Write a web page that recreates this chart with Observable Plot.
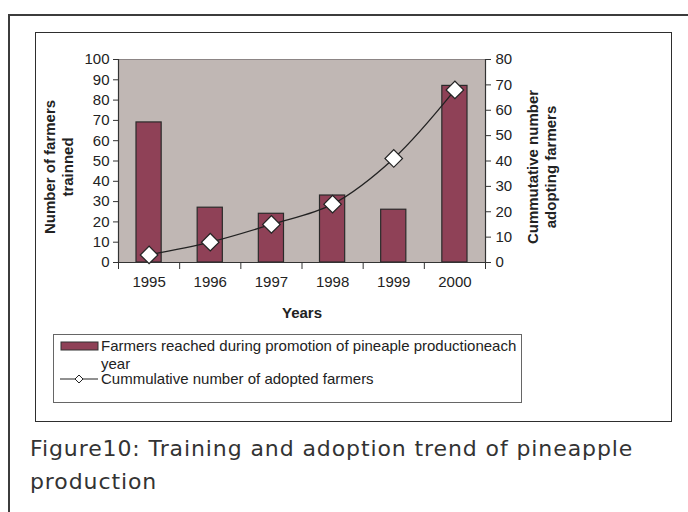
<!DOCTYPE html>
<html>
<head>
<meta charset="utf-8">
<script src="https://cdn.jsdelivr.net/npm/d3@7"></script>
<script src="https://cdn.jsdelivr.net/npm/@observablehq/plot@0.6"></script>
<style>
  html, body { margin: 0; padding: 0; background: #fff; }
  body { width: 688px; height: 512px; position: relative; overflow: hidden; font-family: "Liberation Sans", Arial, sans-serif; }
  #outer { position: absolute; left: 8px; top: 14px; width: 800px; height: 600px; border-top: 2px solid #3c3c3c; border-left: 2px solid #3c3c3c; }
  #inner { position: absolute; left: 35px; top: 32px; width: 635px; height: 388px; border: 1.5px solid #2e2e2e; }
  #chart { position: absolute; left: 0; top: 0; }
  #legend { position: absolute; left: 53px; top: 334px; width: 467px; height: 67px; border: 1px solid #666; background: #fff; }
  .lg { position: absolute; font-size: 15px; color: #222; white-space: nowrap; line-height: 18px; }
  #caption { position: absolute; left: 30px; top: 432px; font-family: "DejaVu Sans", sans-serif; font-size: 22px; letter-spacing: 0.9px; line-height: 33px; color: #333; white-space: nowrap; }
</style>
</head>
<body>
<div id="outer"></div>
<div id="inner"></div>
<div id="chart"></div>
<div id="legend">
  <svg class="lg" style="left:6px; top:6px;" width="40" height="12">
    <rect x="1" y="1" width="37" height="8" fill="#8f4157" stroke="#333" stroke-width="1"></rect>
  </svg>
  <div class="lg" id="lg1" style="left:47px; top:2px;"></div>
  <svg class="lg" style="left:6px; top:37px;" width="40" height="14">
    <line x1="0" y1="7" x2="38" y2="7" stroke="#222" stroke-width="1"></line>
    <path d="M19,3 L23,7 L19,11 L15,7 Z" fill="#fff" stroke="#222" stroke-width="1"></path>
  </svg>
  <div class="lg" id="lg2" style="left:47px; top:35px;"></div>
</div>
<div id="caption"></div>
<script>
// ---- data ----
const years = [1995, 1996, 1997, 1998, 1999, 2000];
const trained = [69, 27, 24, 33, 26, 87];
const adopted = [3, 8, 15, 23, 41, 68];
const leftTicks = [0, 10, 20, 30, 40, 50, 60, 70, 80, 90, 100];
const rightTicks = [0, 10, 20, 30, 40, 50, 60, 70, 80];
const barLabel = "Farmers reached during promotion of pineaple productioneach";
const barLabel2 = "year";
const lineLabel = "Cummulative number of adopted farmers";
const leftTitle = "Number of farmers\ntrainned";
const rightTitle = "Cummutative number\nadopting farmers";
const xTitle = "Years";
const captionLines = ["Figure10: Training and adoption trend of pineapple", "production"];

const leftMax = 100, rightMax = 80;
const k = leftMax / rightMax;
const data = years.map((year, i) => ({year, trained: trained[i], adopted: adopted[i]}));
const edges = years.map(y => y - 0.5).concat([years[years.length - 1] + 0.5]);
const xDomain = [edges[0], edges[edges.length - 1]];

const chart = Plot.plot({
  width: 688,
  height: 330,
  marginLeft: 118,
  marginRight: 203,
  marginTop: 59,
  marginBottom: 68,
  style: {fontFamily: "Liberation Sans, Arial, sans-serif", fontSize: "15px", color: "#222", background: "transparent", overflow: "visible"},
  x: {type: "linear", domain: xDomain, axis: null},
  y: {domain: [0, leftMax], axis: null},
  marks: [
    Plot.frame({fill: "#c0b7b4", stroke: "#8c8585"}),
    Plot.rectY(data, {x1: d => d.year - 0.5, x2: d => d.year + 0.5, y: "trained", insetLeft: 18, insetRight: 18, fill: "#8f4157", stroke: "#2a2a2a", strokeWidth: 1.2}),
    Plot.ruleY([0], {stroke: "#333", strokeWidth: 1.2}),
    Plot.ruleX(xDomain, {stroke: "#333", strokeWidth: 1.2}),
    Plot.axisY(leftTicks, {anchor: "left", tickSize: 5, tickPadding: 4, stroke: "#333", fill: "#222", label: null, fontSize: 15}),
    Plot.axisY(rightTicks.map(v => v * k), {anchor: "right", tickSize: 5, tickPadding: 5, stroke: "#333", fill: "#222", label: null, tickFormat: v => String(Math.round(v / k)), fontSize: 15}),
    Plot.axisX(edges, {anchor: "bottom", tickSize: 7, tickFormat: () => "", stroke: "#333", label: null}),
    Plot.axisX(years, {anchor: "bottom", tickSize: 0, tickPadding: 14, tickFormat: d => String(d), fill: "#222", label: null, fontSize: 15}),
    Plot.line(data, {x: "year", y: d => d.adopted * k, curve: "catmull-rom", stroke: "#222", strokeWidth: 1.3}),
    Plot.dot(data, {x: "year", y: d => d.adopted * k, symbol: "square", rotate: 45, r: 7, fill: "#fff", stroke: "#222", strokeWidth: 1.2}),
    Plot.text([leftTitle], {text: d => d, frameAnchor: "left", textAnchor: "middle", lineAnchor: "middle", rotate: -90, dx: -60, dy: 6, fontWeight: "bold", fontSize: 15, lineHeight: 1.15, fill: "#222"}),
    Plot.text([rightTitle], {text: d => d, frameAnchor: "right", textAnchor: "middle", lineAnchor: "middle", rotate: -90, dx: 56, dy: 6, fontWeight: "bold", fontSize: 15, lineHeight: 1.15, fill: "#222"}),
    Plot.text([xTitle], {text: d => d, frameAnchor: "bottom", lineAnchor: "middle", dy: 51, fontWeight: "bold", fontSize: 15, fill: "#222"})
  ]
});
document.getElementById("chart").appendChild(chart);

document.getElementById("lg1").innerHTML = barLabel + "<br>" + barLabel2;
document.getElementById("lg2").textContent = lineLabel;
document.getElementById("caption").innerHTML = captionLines.join("<br>");
</script>
</body>
</html>
